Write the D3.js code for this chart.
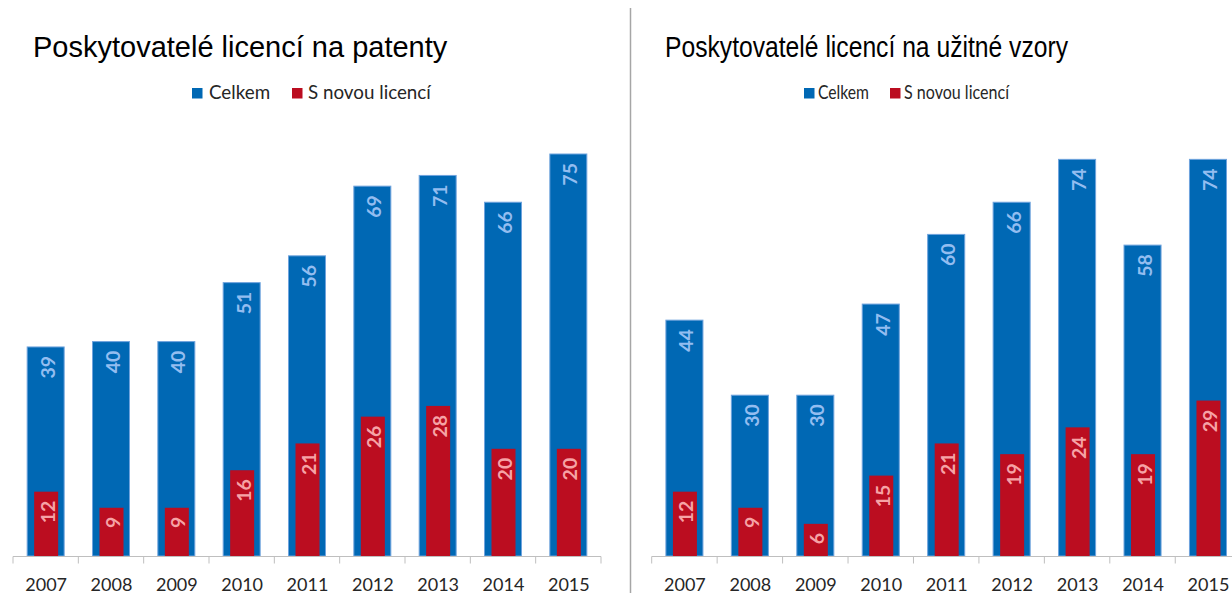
<!DOCTYPE html>
<html><head><meta charset="utf-8">
<script src="https://cdn.jsdelivr.net/npm/d3@7"></script>
<style>
html,body{margin:0;padding:0;background:#fff;}
svg{display:block;}
</style></head>
<body>
<svg id="c" width="1232" height="593"></svg>
<script>
const years = ["2007","2008","2009","2010","2011","2012","2013","2014","2015"];
const seriesNames = ["Celkem","S novou licencí"];
const patentTotal = [39,40,40,51,56,69,71,66,75];
const patentNew   = [12,9,9,16,21,26,28,20,20];
const modelTotal  = [44,30,30,47,60,66,74,58,74];
const modelNew    = [12,9,6,15,21,19,24,19,29];
const titles = ["Poskytovatelé licencí na patenty","Poskytovatelé licencí na užitné vzory"];

const BLUE = "#0068b4", RED = "#bb0d20";
const svg = d3.select("#c");

const panels = [
  {title: titles[0], total: patentTotal, nw: patentNew, x0: 13, x1: 601,
   titleX: 33, titleLen: null,
   leg: {sq1: 192, t1: 209, sq2: 292, t2: 308, size: 18.8, len1: null, len2: null}},
  {title: titles[1], total: modelTotal, nw: modelNew, x0: 651.7, x1: 1240.7,
   titleX: 665, titleLen: 403,
   leg: {sq1: 804, t1: 818, sq2: 890, t2: 904, size: 18.8, len1: 51, len2: 105}}
];

const y = d3.scaleLinear().domain([0, 80]).range([556, 127.2]);

// divider
svg.append("line").attr("x1",630.5).attr("x2",630.5).attr("y1",8).attr("y2",593)
  .attr("stroke","#a6a6a6").attr("stroke-width",1.5);

panels.forEach(p => {
  const g = svg.append("g");
  const x = d3.scaleBand().domain(years).range([p.x0, p.x1])
    .paddingInner(0.434).paddingOuter(0.217);
  const step = x.step();
  const bw = x.bandwidth();
  const rw = 24;

  // title
  const t = g.append("text").attr("x", p.titleX).attr("y", 56.5)
    .attr("font-family","'Liberation Sans', Arial, sans-serif").attr("font-size",29)
    .attr("fill","#000").text(p.title);
  if (p.titleLen) t.attr("textLength", p.titleLen).attr("lengthAdjust","spacingAndGlyphs");

  // legend
  const L = p.leg;
  [[L.sq1, L.t1, BLUE, seriesNames[0], L.len1],[L.sq2, L.t2, RED, seriesNames[1], L.len2]].forEach(([sx, tx, col, name, len]) => {
    g.append("rect").attr("x", sx).attr("y", 88).attr("width", 10.5).attr("height", 10.5).attr("fill", col);
    const lt = g.append("text").attr("x", tx).attr("y", 99).attr("font-family","Lato, sans-serif")
      .attr("font-size", L.size).attr("fill","#262626").text(name);
    if (len) lt.attr("textLength", len).attr("lengthAdjust","spacingAndGlyphs");
  });

  // bars total
  g.selectAll("rect.tot").data(years).join("rect").attr("class","tot")
    .attr("x", d => x(d)).attr("width", bw)
    .attr("y", (d,i) => y(p.total[i])).attr("height", (d,i) => y(0) - y(p.total[i]))
    .attr("fill", BLUE).attr("stroke","#6fa3dd").attr("stroke-width",1);
  // bars new
  g.selectAll("rect.nw").data(years).join("rect").attr("class","nw")
    .attr("x", d => x(d) + bw/2 - rw/2 + 0.5).attr("width", rw)
    .attr("y", (d,i) => y(p.nw[i])).attr("height", (d,i) => y(0) - y(p.nw[i]))
    .attr("fill", RED);

  // labels
  const lab = (vals, col) => g.selectAll(null).data(years).join("text")
    .attr("transform", (d,i) => `translate(${x(d) + bw/2 + 1.5},${y(vals[i]) + 9}) rotate(-90)`)
    .attr("text-anchor","end").attr("dominant-baseline","central")
    .attr("font-family","Lato, sans-serif").attr("font-weight","bold").attr("font-size",19.5)
    .attr("fill", col).text((d,i) => vals[i]);
  lab(p.total, "#93bdf0");
  lab(p.nw, "#f6a3a6");

  // axis
  const ax = g.append("g");
  ax.append("line").attr("x1", p.x0).attr("x2", p.x1).attr("y1", 556.5).attr("y2", 556.5)
    .attr("stroke","#bfbfbf").attr("stroke-width",1);
  const bounds = years.map(d => x(d) - (step - bw)/2).concat([x(years[years.length-1]) + bw + (step-bw)/2]);
  ax.selectAll("line.tk").data(bounds).join("line").attr("class","tk")
    .attr("x1", d => d).attr("x2", d => d).attr("y1", 556.5).attr("y2", 563.5)
    .attr("stroke","#bfbfbf").attr("stroke-width",1);
  ax.selectAll("text").data(years).join("text")
    .attr("x", d => x(d) + bw/2 + 0.5).attr("y", 590.5).attr("text-anchor","middle")
    .attr("font-family","Lato, sans-serif").attr("font-size",18).attr("fill","#262626")
    .text(d => d);
});
</script>
</body></html>
